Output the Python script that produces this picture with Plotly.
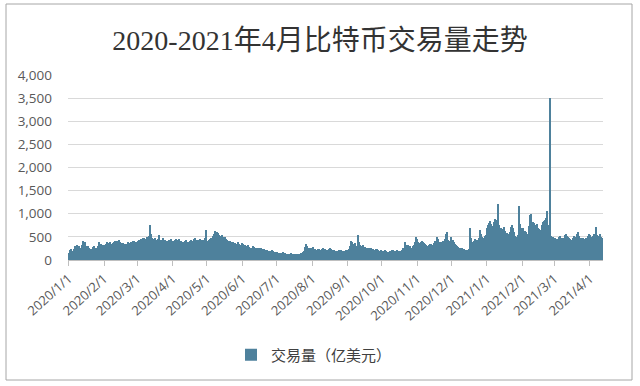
import pandas as pd
import plotly.graph_objects as go

jan20 = [150,210,230,200,180,240,300,330,290,310,270,250,330,420,380,300,290,310,260,240,230,280,300,260,250,220,300,400,340,330,310]
feb20 = [320,300,340,380,360,390,350,330,370,400,420,410,380,430,390,350,370,360,340,330,350,380,360,340,400,420,410,390,380]
mar20 = [400,420,440,460,430,480,470,450,460,490,520,760,560,480,460,450,470,440,460,530,430,420,440,470,430,410,420,400,430,440,460]
apr20 = [420,410,440,460,430,400,450,420,400,380,390,410,430,400,390,420,440,410,400,450,470,430,410,440,460,430,420,440,470,650]
may20 = [420,400,440,460,480,520,560,625,560,610,580,540,520,550,500,470,490,450,430,420,410,400,390,380,370,360,350,380,340,330,320]
jun20 = [360,340,330,310,300,320,280,270,260,300,290,250,240,260,230,250,270,240,220,230,210,200,220,190,200,180,210,190,170,180]
jul20 = [170,160,150,140,150,160,170,150,140,130,120,130,140,150,130,120,125,135,130,120,140,150,160,180,200,280,350,300,260,250,240]
aug20 = [260,280,240,230,220,240,230,210,220,230,260,240,220,210,200,230,250,240,220,210,200,190,180,200,210,220,200,190,180,200,210]
sep20 = [220,240,300,420,400,350,330,370,300,530,380,320,290,300,320,280,250,240,260,230,270,250,230,220,210,240,230,220,200,210]
oct20 = [200,190,180,210,190,170,180,200,190,210,220,200,190,210,200,190,180,200,220,260,400,330,300,320,280,300,270,310,320,380,500]
nov20 = [450,380,360,400,420,390,360,340,330,310,320,340,350,330,310,360,420,500,460,400,380,350,390,420,450,560,610,430,380,420]
dec20 = [500,430,380,350,330,300,280,260,270,250,240,230,220,200,210,230,690,480,400,380,420,450,430,400,470,650,560,500,480,510,550]
jan21 = [700,760,800,850,780,740,820,880,800,860,1220,760,700,680,650,720,620,560,580,570,600,720,760,700,600,520,500,540,1170,780,700]
feb21 = [650,700,620,600,560,520,740,980,1000,830,800,760,720,780,700,680,650,760,820,850,870,900,1050,760,3500,520,480,500]
mar21 = [470,480,460,440,500,520,480,450,470,540,560,520,500,480,460,440,470,520,500,480,560,600,520,480,460,470,440,450,480,520,560]
apr21 = [540,500,480,520,560,720,540,500,520,560,500,480]

months = [jan20, feb20, mar20, apr20, may20, jun20, jul20, aug20, sep20, oct20, nov20, dec20,
          jan21, feb21, mar21, apr21]
expected = [31, 29, 31, 30, 31, 30, 31, 31, 30, 31, 30, 31, 31, 28, 31, 12]
for m, n in zip(months, expected):
    assert len(m) == n, (len(m), n)

volume = [v for m in months for v in m]
dates = pd.date_range("2020-01-01", periods=len(volume), freq="D")

tick_dates = pd.date_range("2020-01-01", "2021-04-01", freq="MS")
tick_labels = [f"{d.year}/{d.month}/1" for d in tick_dates]

title_text = "2020-2021年4月比特币交易量走势"
series_name = "交易量（亿美元）"

fig = go.Figure()
fig.add_trace(go.Bar(
    x=dates, y=volume, name=series_name,
    marker=dict(color="#4e819c", line=dict(width=0)),
))

L, R, T, B = 68, 37, 75, 126
W, H = 640, 386
pw, ph = W - L - R, H - T - B

def px_x(p):
    return (p - L) / pw

def px_y(p):
    return (H - B - p) / ph

fig.update_layout(
    width=W, height=H,
    margin=dict(l=L, r=R, t=T, b=B),
    paper_bgcolor="white", plot_bgcolor="white",
    bargap=0,
    showlegend=True,
    legend=dict(orientation="h", x=px_x(231), xanchor="left", y=px_y(355), yanchor="middle",
                itemwidth=30,
                font=dict(family="Noto Sans CJK SC", size=15, color="#404040")),
    title=dict(text=title_text, x=0.5, xanchor="center", y=1 - 40 / H, yanchor="middle",
               font=dict(family="'Liberation Serif', 'Times New Roman', 'Noto Sans CJK SC', serif",
                         size=28, color="#333333")),
    xaxis=dict(
        type="date",
        range=[pd.Timestamp("2019-12-31 12:00"), pd.Timestamp("2021-04-12 12:00")],
        tickvals=tick_dates, ticktext=tick_labels, tickangle=-42,
        tickfont=dict(family="Open Sans", size=13, color="#595959"),
        ticks="outside", ticklen=5, tickcolor="#bfbfbf",
        showline=True, linecolor="#bfbfbf", linewidth=1,
        showgrid=False, zeroline=False,
    ),
    yaxis=dict(
        range=[0, 4000], tickvals=[0, 500, 1000, 1500, 2000, 2500, 3000, 3500, 4000],
        tickformat=",", tickfont=dict(family="Open Sans", size=13.5, color="#595959"),
        showgrid=True, gridcolor="#d9d9d9", gridwidth=1,
        zeroline=False, showline=False, ticks="", ticklabelstandoff=15,
    ),
    shapes=[dict(type="rect", xref="paper", yref="paper",
                 x0=px_x(6), x1=px_x(632), y0=px_y(380), y1=px_y(4),
                 line=dict(color="#a6a6a6", width=1), fillcolor="rgba(0,0,0,0)", layer="below")],
)

fig.write_html("out.html", config={"displayModeBar": False},
               post_script="document.body.style.margin='0';")
